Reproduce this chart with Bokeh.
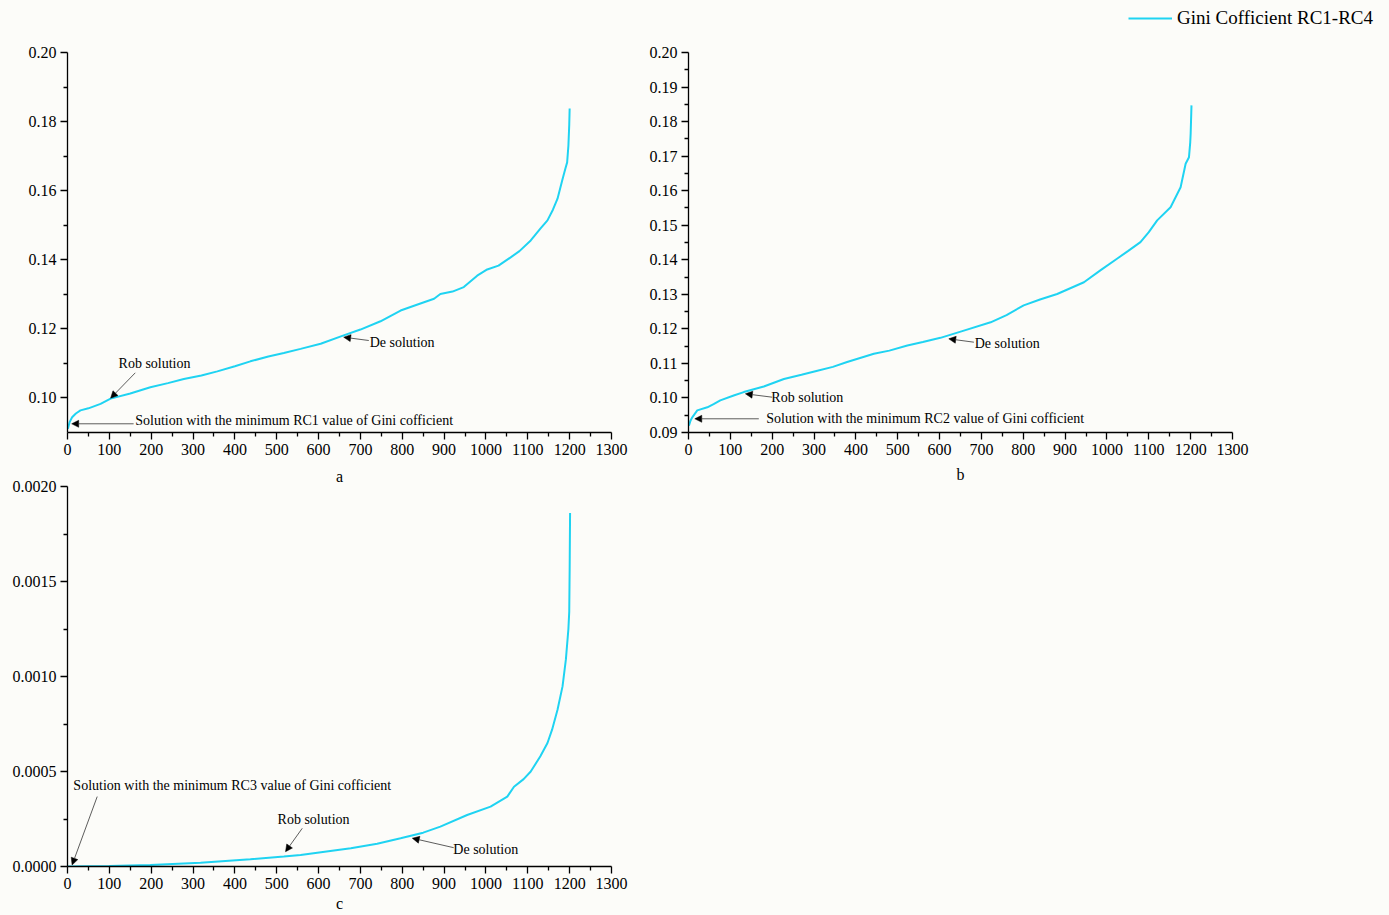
from bokeh.plotting import figure
from bokeh.models import (FixedTicker, PrintfTickFormatter, Arrow, NormalHead,
                          Label, Legend, LegendItem, Range1d, LinearAxis, Spacer)
from bokeh.layouts import column, row
from bokeh.embed import file_html
from bokeh.resources import INLINE

# ---------------- data ----------------
x_a = [1, 5, 11, 20, 31, 50, 79, 103, 150, 198, 240, 278, 320, 358, 400, 437, 480, 517, 557,
       605, 660, 700, 748, 796, 840, 876, 891, 920, 947, 979, 1003, 1030, 1059, 1080, 1107,
       1130, 1147, 1160, 1171, 1182, 1190, 1194, 1197, 1199, 1200]
y_a = [0.0911, 0.0930, 0.0944, 0.0955, 0.0964, 0.0970, 0.0983, 0.0998, 0.1013, 0.1031, 0.1043,
       0.1055, 0.1065, 0.1077, 0.1092, 0.1106, 0.1120, 0.1130, 0.1142, 0.1157, 0.1181, 0.1198,
       0.1222, 0.1253, 0.1272, 0.1287, 0.1301, 0.1308, 0.1321, 0.1354, 0.1372, 0.1383, 0.1407,
       0.1425, 0.1456, 0.1490, 0.1514, 0.1545, 0.1577, 0.1629, 0.1665, 0.1682, 0.1730, 0.1790,
       0.1838]

x_b = [1, 5, 9, 21, 45, 60, 76, 108, 132, 180, 228, 270, 308, 345, 379, 443, 480, 523, 560, 602,
       658, 722, 760, 801, 840, 881, 945, 985, 1024, 1050, 1080, 1100, 1120, 1152, 1176, 1188,
       1196, 1199, 1200, 1202]
y_b = [0.0920, 0.0935, 0.0944, 0.0964, 0.0973, 0.0982, 0.0993, 0.1007, 0.1017, 0.1033, 0.1055,
       0.1067, 0.1079, 0.1090, 0.1104, 0.1128, 0.1137, 0.1152, 0.1162, 0.1174, 0.1195, 0.1219,
       0.1240, 0.1268, 0.1285, 0.1301, 0.1335, 0.1370, 0.1403, 0.1425, 0.1451, 0.1480, 0.1514,
       0.1552, 0.1610, 0.1678, 0.1697, 0.1740, 0.1765, 0.1847]

x_c = [1, 100, 198, 318, 437, 517, 557, 628, 677, 740, 796, 850, 891, 955, 1011, 1051, 1067,
       1090, 1107, 1130, 1147, 1158, 1171, 1183, 1191, 1197, 1199, 1200, 1201]
y_c = [0.0, 0.000002, 0.000008, 0.00002, 0.000038, 0.000052, 0.00006, 0.000082, 0.000096,
       0.00012, 0.000149, 0.000178, 0.00021, 0.000271, 0.000315, 0.000368, 0.00042, 0.00046,
       0.0005, 0.00058, 0.00065, 0.00072, 0.000825, 0.000948, 0.00109, 0.00125, 0.00134,
       0.00156, 0.00186]

x_ticks = [0, 100, 200, 300, 400, 500, 600, 700, 800, 900, 1000, 1100, 1200, 1300]
x_minor = [50, 150, 250, 350, 450, 550, 650, 750, 850, 950, 1050, 1150, 1250]
ya_ticks = [0.10, 0.12, 0.14, 0.16, 0.18, 0.20]
ya_minor = [0.11, 0.13, 0.15, 0.17, 0.19]
yb_ticks = [0.09, 0.10, 0.11, 0.12, 0.13, 0.14, 0.15, 0.16, 0.17, 0.18, 0.19, 0.20]
yb_minor = [0.095, 0.105, 0.115, 0.125, 0.135, 0.145, 0.155, 0.165, 0.175, 0.185, 0.195]
yc_ticks = [0.0, 0.0005, 0.0010, 0.0015, 0.0020]
yc_minor = [0.00025, 0.00075, 0.00125, 0.00175]

legend_label = "Gini Cofficient RC1-RC4"
panel_labels = ["a", "b", "c"]

# annotations: (text, text_x, text_y, arrow_x0, arrow_y0, arrow_x1, arrow_y1)
notes_a = [
    ("Rob solution", 122, 0.1100, 162, 0.10728, 103, 0.09993),
    ("Solution with the minimum RC1 value of Gini cofficient", 162, 0.09347, 158, 0.09252, 10, 0.09252),
    ("De solution", 722, 0.11605, 720, 0.11663, 660, 0.11759),
]
notes_b = [
    ("Rob solution", 198, 0.10013, 200, 0.10022, 136, 0.1012),
    ("Solution with the minimum RC2 value of Gini cofficient", 186, 0.09405, 168, 0.09397, 15, 0.09397),
    ("De solution", 684, 0.11576, 682, 0.11614, 622, 0.11712),
]
notes_c = [
    ("Solution with the minimum RC3 value of Gini cofficient", 14, 0.000424, 71, 0.000368, 11, 0.000008),
    ("Rob solution", 502, 0.00025, 561, 0.000201, 521, 0.000078),
    ("De solution", 922, 0.000087, 923, 0.000099, 824, 0.000149),
]

# ---------------- styling ----------------
BG = "#fcfcf9"
LINE = "#1fd3f2"
FONT = "Liberation Serif"


def style_label(ax, text, standoff):
    ax.axis_label = text
    ax.axis_label_text_font = FONT
    ax.axis_label_text_font_size = "16px"
    ax.axis_label_text_font_style = "normal"
    ax.axis_label_text_color = "black"
    ax.axis_label_standoff = standoff


def make_fig(width, height, left, right, top, bottom, y0, y1, yt, ym, yfmt, xlabel, standoff=2):
    p = figure(width=width, height=height, output_backend="svg", toolbar_location=None,
               x_range=Range1d(0, 1300), y_range=Range1d(y0, y1),
               min_border_left=left, min_border_right=right,
               min_border_top=top, min_border_bottom=bottom)
    p.background_fill_color = BG
    p.border_fill_color = BG
    p.outline_line_color = None
    p.grid.visible = False
    for ax in (p.xaxis[0], p.yaxis[0]):
        ax.axis_line_color = "black"
        ax.axis_line_width = 1.3
        ax.major_tick_line_color = "black"
        ax.major_tick_line_width = 1.3
        ax.minor_tick_line_color = "black"
        ax.minor_tick_line_width = 1.3
        ax.major_tick_in = 0
        ax.major_tick_out = 7
        ax.minor_tick_in = 0
        ax.minor_tick_out = 4
        ax.major_label_text_font = FONT
        ax.major_label_text_font_size = "16px"
        ax.major_label_text_color = "black"
        ax.major_label_standoff = 4
    p.xaxis[0].ticker = FixedTicker(ticks=x_ticks, minor_ticks=x_minor)
    p.xaxis[0].formatter = PrintfTickFormatter(format="%d")
    p.yaxis[0].ticker = FixedTicker(ticks=yt, minor_ticks=ym)
    p.yaxis[0].formatter = PrintfTickFormatter(format=yfmt)
    if xlabel:
        style_label(p.xaxis[0], xlabel, standoff)
    return p


def add_notes(p, notes):
    for (t, tx, ty, ax0, ay0, ax1, ay1) in notes:
        p.add_layout(Arrow(end=NormalHead(size=7, fill_color="black", line_color="black", line_width=0.5),
                           x_start=ax0, y_start=ay0, x_end=ax1, y_end=ay1,
                           line_color="#333333", line_width=0.8))
        p.add_layout(Label(x=tx, y=ty, text=t, text_font=FONT, text_font_size="14px",
                           text_color="black", text_baseline="middle", text_align="left"))


# legend strip across the top (its renderer holds one point only, so it draws no visible mark)
lf = figure(width=1389, height=30, output_backend="svg", toolbar_location=None,
            x_axis_type=None, y_axis_type=None, x_range=Range1d(0, 1), y_range=Range1d(0, 1),
            min_border=0)
lf.background_fill_color = BG
lf.border_fill_color = BG
lf.outline_line_color = None
lf.grid.visible = False
rl = lf.line(x_b[:1], y_b[:1], line_color=LINE, line_width=2)
leg = Legend(items=[LegendItem(label=legend_label, renderers=[rl])], location=(1128, 1),
             glyph_width=44, glyph_height=20, label_standoff=5, padding=0, margin=0, spacing=0,
             label_text_font=FONT, label_text_font_size="19px", label_text_color="black",
             border_line_color=None, background_fill_alpha=0)
lf.add_layout(leg)

# panel a (top-left)
pa = make_fig(640, 432, 67, 29, 22, 30, 0.09, 0.20, ya_ticks, ya_minor, "%.2f", None)
pa.line(x_a, y_a, line_color=LINE, line_width=2)
add_notes(pa, notes_a)

# panel c (bottom-left) carries the "a" caption in an axis above it
pc = make_fig(640, 453, 67, 29, 24, 49, 0.0, 0.0020, yc_ticks, yc_minor, "%.4f", panel_labels[2], 3)
pc.line(x_c, y_c, line_color=LINE, line_width=2)
add_notes(pc, notes_c)
cap = LinearAxis(ticker=FixedTicker(ticks=[]), axis_line_color=None,
                 major_tick_line_color=None, minor_tick_line_color=None)
style_label(cap, panel_labels[0], 2)
pc.add_layout(cap, "above")

# panel b (top-right)
pb = make_fig(749, 460, 48, 157, 22, 58, 0.09, 0.20, yb_ticks, yb_minor, "%.2f", panel_labels[1], 8)
pb.line(x_b, y_b, line_color=LINE, line_width=2)
add_notes(pb, notes_b)

left = column(pa, pc)
right = column(pb, Spacer(width=749, height=425, styles={"background-color": BG}))
layout = column(lf, row(left, right))
layout.styles = {"background-color": BG}

open("out.html", "w").write(file_html(layout, INLINE))
